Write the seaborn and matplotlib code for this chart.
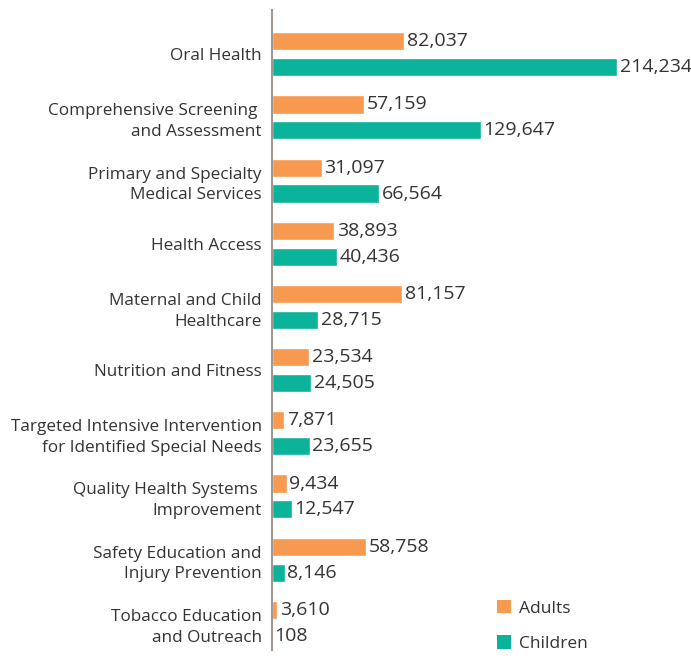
import numpy as np
import pandas as pd
import matplotlib
matplotlib.use("Agg")
import matplotlib.pyplot as plt
from matplotlib.patches import Patch
import seaborn as sns

# Data
categories = [
    "Oral Health",
    "Comprehensive Screening \nand Assessment",
    "Primary and Specialty\nMedical Services",
    "Health Access",
    "Maternal and Child\nHealthcare",
    "Nutrition and Fitness",
    "Targeted Intensive Intervention\nfor Identified Special Needs",
    "Quality Health Systems \nImprovement",
    "Safety Education and\nInjury Prevention",
    "Tobacco Education\nand Outreach",
]
adults = [82037, 57159, 31097, 38893, 81157, 23534, 7871, 9434, 58758, 3610]
children = [214234, 129647, 66564, 40436, 28715, 24505, 23655, 12547, 8146, 108]
groups = ["Adults", "Children"]
colors = ["#F7994F", "#0BB39B"]

df = pd.DataFrame({
    "category": categories * 2,
    "group": ["Adults"] * len(categories) + ["Children"] * len(categories),
    "value": adults + children,
})

sns.set_style("white")
plt.rcParams["font.family"] = ["Open Sans", "DejaVu Sans"]
text_color = "#333333"

fig = plt.figure(figsize=(6.91, 6.66), dpi=100)
ax = fig.add_axes([271.5 / 691, 16 / 666, 1 - 271.5 / 691, 1 - 26 / 666])

sns.barplot(data=df, x="value", y="category", hue="group", order=categories,
            hue_order=groups, palette=colors, orient="h", width=0.82, gap=0.3,
            ax=ax, legend=False, saturation=1)

for cont in ax.containers:
    ax.bar_label(cont, labels=[f"{v:,.0f}" for v in cont.datavalues],
                 padding=2, fontsize=14, color=text_color)

ax.set_xlim(0, 260000)
ax.set_ylim(9.43, -0.70)
ax.set_xlabel("")
ax.set_ylabel("")
ax.set_xticks([])
ax.tick_params(axis="y", length=0, pad=7, labelsize=12.3, labelcolor=text_color)
for lbl in ax.get_yticklabels():
    lbl.set_linespacing(1.4)
for s in ["top", "right", "bottom"]:
    ax.spines[s].set_visible(False)
ax.spines["left"].set_color("#A09890")
ax.spines["left"].set_linewidth(1.5)

handles = [Patch(facecolor=c, edgecolor="none") for c in colors]
fig.legend(handles, groups, loc="upper left", bbox_to_anchor=(481 / 691, 1 - 584 / 666),
           frameon=False, fontsize=12.5, labelcolor=text_color, handlelength=0.85,
           handleheight=0.85, handletextpad=0.45, labelspacing=1.05)

fig.savefig("out.png", dpi=100)
